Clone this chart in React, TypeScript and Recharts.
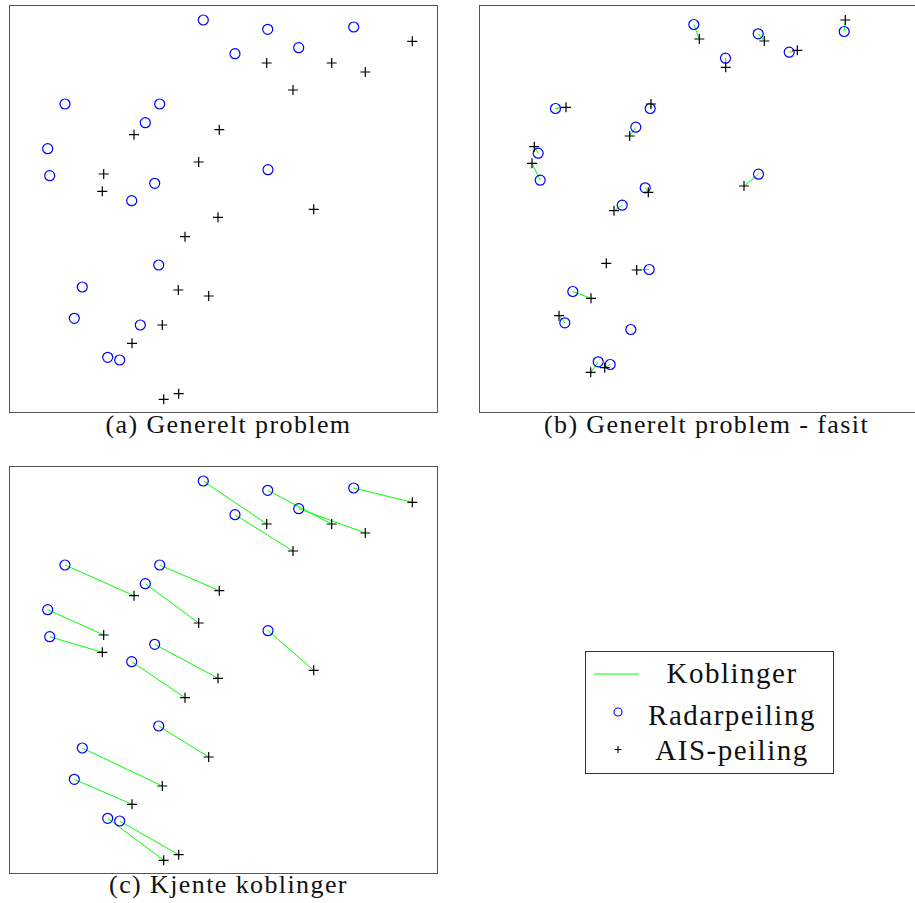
import React from "react";
import { ScatterChart, Scatter, XAxis, YAxis } from "recharts";

// Radarpeiling (blue circles) - same measurements in all three panels
const radarX = [193.3, 257.7, 343.7, 225, 288.7, 55, 149.7, 135.3, 37.7, 39.7, 258, 144.7, 121.7, 148.7, 72.3, 64.3, 130.3, 97.7, 109.7];
const radarY = [392, 382.7, 385, 358.3, 364.3, 308, 308, 289.3, 263.3, 236.3, 242.3, 228.7, 211.3, 147, 125, 93.7, 87, 54.7, 52];

// AIS-peiling as received (panel a and c)
const aisX = [402.3, 256.7, 321.7, 355.3, 283, 124, 209.3, 188.7, 93.7, 92.3, 303.7, 208, 175, 168.3, 198.7, 152.3, 122, 153.7, 168.7];
const aisY = [370.7, 349, 349, 340, 322, 277.3, 282.3, 250, 238, 220.7, 202.7, 194.7, 175.3, 122, 116, 87, 68.7, 12.7, 18.3];

// AIS-peiling, correct positions (panel b - fasit)
const trueX = [198.8, 263.8, 344.8, 225.2, 296.8, 65.5, 150.5, 129.2, 33.8, 31.5, 243.5, 147.8, 113.5, 105.8, 136.2, 90.5, 58.5, 90.2, 104.2];
const trueY = [377.5, 375.5, 396.5, 349.2, 366.2, 309.2, 312.5, 280.5, 269.8, 253.2, 230.5, 224.2, 205.8, 153.2, 146.5, 118.2, 100.8, 44.2, 48.8];

// couplings [radar index, ais index]
const linksB = [[0, 0], [1, 1], [2, 2], [3, 3], [4, 4], [5, 5], [6, 6], [7, 7], [8, 8], [9, 9], [10, 10], [11, 11], [12, 12], [13, 14], [14, 15], [15, 16], [17, 17], [18, 18]];
const linksC = [[0, 1], [1, 2], [2, 0], [3, 4], [4, 3], [5, 5], [6, 6], [7, 7], [8, 8], [9, 9], [10, 10], [11, 11], [12, 12], [13, 14], [14, 15], [15, 16], [17, 17], [18, 18]];

const toPoints = (xs: number[], ys: number[]) => xs.map((x, i) => ({ x, y: ys[i] }));
const radar = toPoints(radarX, radarY);
const ais = toPoints(aisX, aisY);
const truth = toPoints(trueX, trueY);

const FONT = "Liberation Serif";

const Ring = (p: any) => (
  <circle cx={p.cx} cy={p.cy} r={5} fill="none" stroke="#0000ff" strokeWidth={1.2} />
);
const Cross = (p: any) => (
  <path
    d={`M${p.cx - 5},${p.cy}H${p.cx + 5}M${p.cx},${p.cy - 5}V${p.cy + 5}`}
    stroke="#000"
    strokeWidth={1.2}
    fill="none"
  />
);
const NoDot = () => <g />;

interface PanelProps {
  left: number;
  top: number;
  width: number;
  height: number;
  xDomain: [number, number];
  yDomain: [number, number];
  radarPts: { x: number; y: number }[];
  aisPts: { x: number; y: number }[];
  links?: number[][];
}

function Panel({ left, top, width, height, xDomain, yDomain, radarPts, aisPts, links = [] }: PanelProps) {
  return (
    <div style={{ position: "absolute", left, top, width, height, outline: "1px solid #555" }}>
      <ScatterChart width={width} height={height} margin={{ top: 0, right: 0, bottom: 0, left: 0 }}>
        <XAxis type="number" dataKey="x" domain={xDomain} hide allowDataOverflow />
        <YAxis type="number" dataKey="y" domain={yDomain} hide allowDataOverflow width={0} />
        {links.map(([r, a], i) => (
          <Scatter
            key={"l" + i}
            data={[radarPts[r], aisPts[a]]}
            line={{ stroke: "#00ff00", strokeWidth: 1 }}
            shape={NoDot}
            isAnimationActive={false}
          />
        ))}
        <Scatter data={radarPts} shape={Ring} isAnimationActive={false} />
        <Scatter data={aisPts} shape={Cross} isAnimationActive={false} />
      </ScatterChart>
    </div>
  );
}

const Caption = ({ x, y, children }: { x: number; y: number; children: string }) => (
  <text x={x} y={y} textAnchor="middle" fontFamily={FONT} fontSize={26} letterSpacing={1.4} fill="#111">
    {children}
  </text>
);
const LegendLabel = ({ y, children }: { y: number; children: string }) => (
  <text x={147} y={y} textAnchor="middle" fontFamily={FONT} fontSize={29} letterSpacing={1.5} fill="#111">
    {children}
  </text>
);

export default function App() {
  // panel c leaves out the uncoupled pair
  const radarC = radar.filter((_, i) => i !== 16);
  const aisC = ais.filter((_, i) => i !== 13);
  const remapR = (i: number) => (i > 16 ? i - 1 : i);
  const remapA = (i: number) => (i > 13 ? i - 1 : i);
  const linksCm = linksC.map(([r, a]) => [remapR(r), remapA(a)]);

  return (
    <div
      style={{
        position: "absolute",
        left: 0,
        top: 0,
        width: 915,
        height: 903,
        overflow: "hidden",
        background: "#fff",
      }}
    >
      <Panel left={10} top={6} width={427} height={406} xDomain={[0, 427]} yDomain={[0, 406]} radarPts={radar} aisPts={ais} />
      <Panel
        left={480}
        top={6}
        width={443}
        height={406}
        xDomain={[-20.5, 422.5]}
        yDomain={[4.5, 410.5]}
        radarPts={radar}
        aisPts={truth}
        links={linksB}
      />
      <Panel
        left={10}
        top={467}
        width={427}
        height={406}
        xDomain={[0, 427]}
        yDomain={[0, 406]}
        radarPts={radarC}
        aisPts={aisC}
        links={linksCm}
      />

      <svg width={915} height={903} style={{ position: "absolute", left: 0, top: 0, pointerEvents: "none" }}>
        <Caption x={228.5} y={433}>(a) Generelt problem</Caption>
        <Caption x={706.5} y={433}>(b) Generelt problem - fasit</Caption>
        <Caption x={228.5} y={893}>(c) Kjente koblinger</Caption>

        <g transform="translate(585,651)">
          <rect x={0.5} y={0.5} width={248} height={122} fill="#fff" stroke="#333" strokeWidth={1} />
          <line x1={9} y1={23} x2={54} y2={23} stroke="#00ff00" strokeWidth={1} />
          <LegendLabel y={32}>Koblinger</LegendLabel>
          <circle cx={33} cy={61} r={4} fill="none" stroke="#0000ff" strokeWidth={1.1} />
          <LegendLabel y={74}>Radarpeiling</LegendLabel>
          <path d="M29.5,98.5H36.5M33,95V102" stroke="#000" strokeWidth={1.1} />
          <LegendLabel y={109}>AIS-peiling</LegendLabel>
        </g>
      </svg>
    </div>
  );
}
